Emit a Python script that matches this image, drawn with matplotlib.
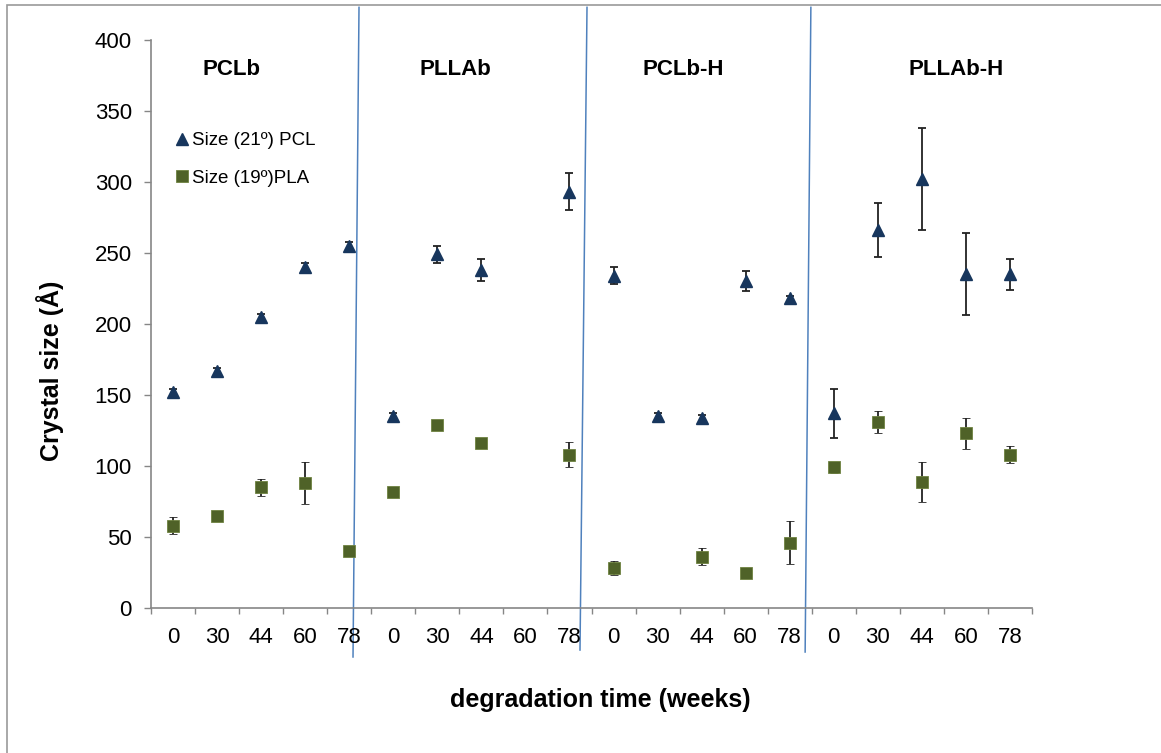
import numpy as np
import matplotlib
matplotlib.use("Agg")
import matplotlib.pyplot as plt
from matplotlib.patches import Rectangle
from matplotlib.lines import Line2D

plt.rcParams['font.family'] = ['Liberation Sans', 'DejaVu Sans']

# categories (4 samples x 5 degradation times)
weeks = ['0', '30', '44', '60', '78']
samples = ['PCLb', 'PLLAb', 'PCLb-H', 'PLLAb-H']
tick_labels = weeks * len(samples)

nan = np.nan
# crystal size (A) of PCL, 21 deg reflection
pcl = [152, 167, 205, 240, 255,
       135, 249, 238, nan, 293,
       234, 135, 134, 230, 218,
       137, 266, 302, 235, 235]
pcl_err = [2, 2, 2, 3, 3,
           2, 6, 8, nan, 13,
           6, 2, 2, 7, 2,
           17, 19, 36, 29, 11]
# crystal size (A) of PLA, 19 deg reflection
pla = [58, 65, 85, 88, 40,
       82, 129, 116, nan, 108,
       28, nan, 36, 25, 46,
       99, 131, 89, 123, 108]
pla_err = [6, 0, 6, 15, 0,
           0, 0, 0, nan, 9,
           5, nan, 6, 0, 15,
           4, 8, 14, 11, 6]

x = np.arange(len(tick_labels))

PCL_C = '#17365D'
PLA_C = '#4F6228'
PLA_EDGE = '#6E8240'

W, H = 1161, 753
fig = plt.figure(figsize=(W / 100, H / 100), dpi=100)
ax = fig.add_axes([151 / W, 1 - 608 / H, (1032 - 151) / W, (608 - 40) / H])

ax.errorbar(x, pcl, yerr=pcl_err, fmt='^', color=PCL_C, ms=8.8,
            ecolor='#222222', elinewidth=1.3, capsize=2.7, capthick=1.3,
            zorder=3)
ax.errorbar(x, pla, yerr=pla_err, fmt='s', color=PLA_C, mec=PLA_EDGE,
            mew=0.6, ms=8.6, ecolor='#222222', elinewidth=1.3, capsize=2.7,
            capthick=1.3, zorder=3)

ax.set_xlim(-0.5, len(x) - 0.5)
ax.set_ylim(0, 400)
ax.set_yticks(np.arange(0, 401, 50))
ax.set_xticks(x)
ax.set_xticklabels(tick_labels)
ax.set_xticks(np.arange(-0.5, len(x), 1), minor=True)
ax.tick_params(axis='x', which='major', length=0, pad=13.5, labelsize=16)
ax.tick_params(axis='x', which='minor', length=4.5, width=1, color='#868686')
ax.tick_params(axis='y', length=4.8, width=1, color='#868686', pad=9, labelsize=16)
for s in ['top', 'right']:
    ax.spines[s].set_visible(False)
for s in ['left', 'bottom']:
    ax.spines[s].set_color('#868686')
    ax.spines[s].set_linewidth(1.2)

# sample names above each group
group_x = [1.33, 6.42, 11.58, 17.77]
for gx, name in zip(group_x, samples):
    ax.text(gx, 379, name, ha='center', va='center', fontsize=16,
            fontweight='bold')

# slanted separators between the groups
seps = [((4.222, 423), (4.086, -34.5)),
        ((9.398, 423), (9.239, -29.6)),
        ((14.48, 423), (14.35, -31))]
for (x0, y0), (x1, y1) in seps:
    ax.add_line(Line2D([x0, x1], [y0, y1], color='#4F81BD', lw=1.1,
                       clip_on=False, zorder=1))

handles = [Line2D([], [], ls='none', marker='^', color=PCL_C, ms=8.8),
           Line2D([], [], ls='none', marker='s', color=PLA_C, mec=PLA_EDGE,
                  mew=0.6, ms=8.6)]
ax.legend(handles, ['Size (21º) PCL', 'Size (19º)PLA'], loc='upper left',
          bbox_to_anchor=(174 / W, 1 - 132 / H), bbox_transform=fig.transFigure,
          frameon=False, fontsize=13.5, handlelength=0.8, handletextpad=0.15,
          labelspacing=1.1, borderpad=0, borderaxespad=0)

fig.text(50 / W, 1 - 371 / H, 'Crystal size (Å)', rotation=90, ha='center',
         va='center', fontsize=18, fontweight='bold')
fig.text(600 / W, 1 - 700 / H, 'degradation time (weeks)', ha='center',
         va='center', fontsize=18, fontweight='bold')

# chart area border
fig.patches.append(Rectangle((7 / W, -0.1), 1.2, 1.1 - 5 / H,
                             transform=fig.transFigure, fill=False,
                             ec='#999999', lw=1.2))

fig.savefig('out.png', dpi=100)
